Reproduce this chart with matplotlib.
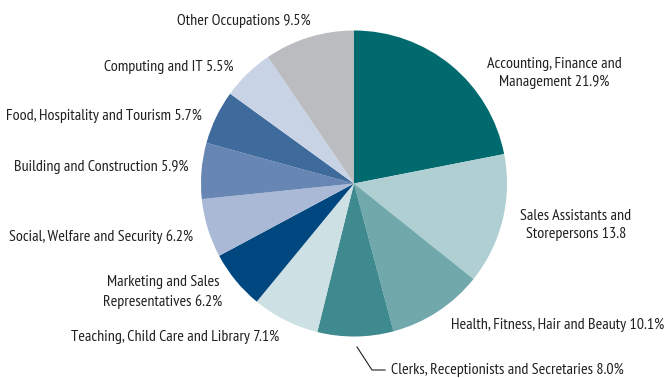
import matplotlib.pyplot as plt

# share of graduates by occupation group (percent)
labels = ['Accounting, Finance and\nManagement 21.9%',
          'Sales Assistants and\nStorepersons 13.8',
          'Health, Fitness, Hair and Beauty 10.1%',
          'Clerks, Receptionists and Secretaries 8.0%',
          'Teaching, Child Care and Library 7.1%',
          'Marketing and Sales\nRepresentatives 6.2%',
          'Social, Welfare and Security 6.2%',
          'Building and Construction 5.9%',
          'Food, Hospitality and Tourism 5.7%',
          'Computing and IT 5.5%',
          'Other Occupations 9.5%']
shares = [21.9, 13.8, 10.1, 8.0, 7.1, 6.2, 6.2, 5.9, 5.7, 5.5, 9.5]
colors = ['#006a6e', '#b0cfd3', '#70a8ac', '#3e8a8f', '#cde0e4', '#00467f',
          '#a9b9d6', '#6786b3', '#3e6a9c', '#c9d3e6', '#bbbcc0']

# label anchor points in pixel space (x, y from top) and alignment
label_pos = [(554, 73, 'center'), (576, 225, 'center'), (664, 325, 'right'),
             (391, 370, 'left'), (279, 337, 'right'), (163, 292, 'center'),
             (193, 237, 'right'), (189, 167, 'right'), (202, 116, 'right'),
             (234, 67, 'right'), (311, 21, 'right')]

W, H = 666, 378
fig = plt.figure(figsize=(W / 100, H / 100), dpi=100)
ax = fig.add_axes([0, 0, 1, 1])

ax.pie(shares, colors=colors, startangle=90, counterclock=False,
       center=(354, H - 183.5), radius=153,
       wedgeprops=dict(linewidth=0))
ax.set_xlim(0, W)
ax.set_ylim(0, H)
ax.set_aspect('equal')
ax.axis('off')

font = ['PT Sans Narrow', 'DejaVu Sans']
for lab, (x, y, ha) in zip(labels, label_pos):
    ax.text(x, H - y, lab, ha=ha, va='center', fontsize=11.5, family=font,
            color='#231f20', linespacing=1.4, multialignment='center')

# leader line for the clerks label
ax.plot([357, 372, 385], [H - 347, H - 370, H - 370], color='#231f20', lw=0.8)

fig.savefig('out.png', dpi=100)
